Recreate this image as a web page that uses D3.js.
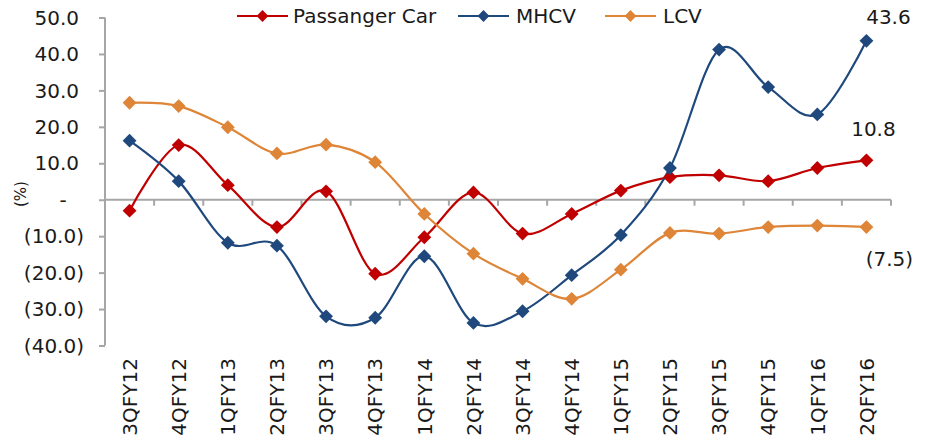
<!DOCTYPE html>
<html>
<head>
<meta charset="utf-8">
<script src="https://cdn.jsdelivr.net/npm/d3@7"></script>
<style>
  html, body { margin: 0; padding: 0; background: #fff; }
  svg { display: block; }
  text { font-family: "DejaVu Sans", sans-serif; fill: #1a1a1a; }
</style>
</head>
<body>
<svg id="chart" width="928" height="448"></svg>
<script>
// Quarterly growth (%) by vehicle segment
const quarters = ["3QFY12","4QFY12","1QFY13","2QFY13","3QFY13","4QFY13","1QFY14","2QFY14",
                  "3QFY14","4QFY14","1QFY15","2QFY15","3QFY15","4QFY15","1QFY16","2QFY16"];
const passengerCar = [-3.0, 15.0, 4.0, -7.5, 2.3, -20.3, -10.3, 2.0, -9.3, -3.9, 2.5, 6.2, 6.7, 5.1, 8.7, 10.8];
const mhcv = [16.2, 5.1, -11.8, -12.6, -32.0, -32.4, -15.5, -33.8, -30.6, -20.7, -9.7, 8.7, 41.2, 30.9, 23.4, 43.6];
const lcv = [26.6, 25.7, 19.9, 12.7, 15.1, 10.3, -3.9, -14.8, -21.7, -27.2, -19.2, -9.1, -9.3, -7.5, -7.1, -7.5];
const yTicks = [50, 40, 30, 20, 10, 0, -10, -20, -30, -40];
const seriesNames = ["Passanger Car", "MHCV", "LCV"];
const seriesColors = ["#C00000", "#1F497D", "#DE8538"];

const series = [
  { name: seriesNames[0], values: passengerCar, color: seriesColors[0] },
  { name: seriesNames[1], values: mhcv, color: seriesColors[1] },
  { name: seriesNames[2], values: lcv, color: seriesColors[2] }
];

const svg = d3.select("#chart");
const axisColor = "#A6A6A6";
const fontSize = 20;

const x = d3.scaleBand().domain(quarters).range([105, 891]).paddingInner(0).paddingOuter(0);
const cx = q => x(q) + x.bandwidth() / 2;
const y = d3.scaleLinear().domain([-40, 50]).range([345.5, 17.5]);

const fmt = v => v === 0 ? "-" : (v < 0 ? "(" + d3.format(".1f")(-v) + ")" : d3.format(".1f")(v));

// Y axis
const yAxis = svg.append("g").attr("transform", "translate(105,0)")
  .call(d3.axisLeft(y).tickValues(yTicks).tickSize(6).tickFormat(() => ""));
yAxis.select(".domain").attr("stroke", axisColor).attr("stroke-width", 2).attr("d", `M0,${y(50)}V${y(-40)}`);
yAxis.selectAll(".tick line").attr("stroke", axisColor).attr("stroke-width", 2);

svg.append("g").selectAll("text").data(yTicks).join("text")
  .attr("x", d => d === 0 ? 63 : (d < 0 ? 84 : 79))
  .attr("y", d => y(d))
  .attr("dy", "0.36em")
  .attr("text-anchor", d => d === 0 ? "middle" : "end")
  .style("font-size", fontSize + "px")
  .text(fmt);

// Y axis title
svg.append("text")
  .attr("transform", "translate(21,194) rotate(-90)")
  .attr("text-anchor", "middle")
  .attr("dy", "0.35em")
  .style("font-size", "15px")
  .text("(%)");

// X axis along the zero line, ticks between categories
const xAxis = svg.append("g").attr("transform", `translate(0,${y(0)})`)
  .call(d3.axisBottom(x).tickSize(0).tickFormat(() => ""));
xAxis.select(".domain").attr("stroke", axisColor).attr("stroke-width", 2).attr("d", `M105,0H891`);
xAxis.selectAll(".tick").remove();
xAxis.selectAll("line.sep").data(quarters).join("line")
  .attr("class", "sep")
  .attr("x1", q => x(q) + x.bandwidth()).attr("x2", q => x(q) + x.bandwidth())
  .attr("y1", 0).attr("y2", 6)
  .attr("stroke", axisColor).attr("stroke-width", 2);

// Category labels below the plot, rotated
svg.append("g").selectAll("text").data(quarters).join("text")
  .attr("transform", q => `translate(${cx(q)},358) rotate(-90)`)
  .attr("text-anchor", "end")
  .attr("dy", "0.36em")
  .style("font-size", fontSize + "px")
  .text(q => q);

// Lines
const line = d3.line()
  .x((d, i) => cx(quarters[i]))
  .y(d => y(d))
  .curve(d3.curveCardinal.tension(0));

const diamond = d3.symbol().type(d3.symbolSquare).size(96);

const g = svg.append("g");
series.forEach(s => {
  g.append("path")
    .attr("d", line(s.values))
    .attr("fill", "none")
    .attr("stroke", s.color)
    .attr("stroke-width", 2.2);
});
series.forEach(s => {
  g.append("g").selectAll("path").data(s.values).join("path")
    .attr("transform", (d, i) => `translate(${cx(quarters[i])},${y(d)}) rotate(45)`)
    .attr("d", diamond)
    .attr("fill", s.color);
});

// End-value labels
const last = quarters.length - 1;
const lastQ = quarters[last];
const endLabels = [
  { v: mhcv[last], dx: 22, dy: -17 },
  { v: passengerCar[last], dx: 7, dy: -24 },
  { v: lcv[last], dx: 23, dy: 39 }
];
svg.append("g").selectAll("text").data(endLabels).join("text")
  .attr("x", d => cx(lastQ) + d.dx)
  .attr("y", d => y(d.v) + d.dy)
  .attr("text-anchor", "middle")
  .style("font-size", fontSize + "px")
  .text(d => fmt(d.v));

// Legend
const legendItems = [
  { x: 237, tx: 293 },
  { x: 458, tx: 516 },
  { x: 605, tx: 663 }
];
const legend = svg.append("g");
series.forEach((s, i) => {
  const it = legendItems[i];
  legend.append("line")
    .attr("x1", it.x).attr("x2", it.x + 51)
    .attr("y1", 16).attr("y2", 16)
    .attr("stroke", s.color).attr("stroke-width", 2.2);
  legend.append("path")
    .attr("transform", `translate(${it.x + 25.5},16) rotate(45)`)
    .attr("d", d3.symbol().type(d3.symbolSquare).size(70))
    .attr("fill", s.color);
  legend.append("text")
    .attr("x", it.tx).attr("y", 16).attr("dy", "0.36em")
    .style("font-size", fontSize + "px")
    .text(s.name);
});
</script>
</body>
</html>
